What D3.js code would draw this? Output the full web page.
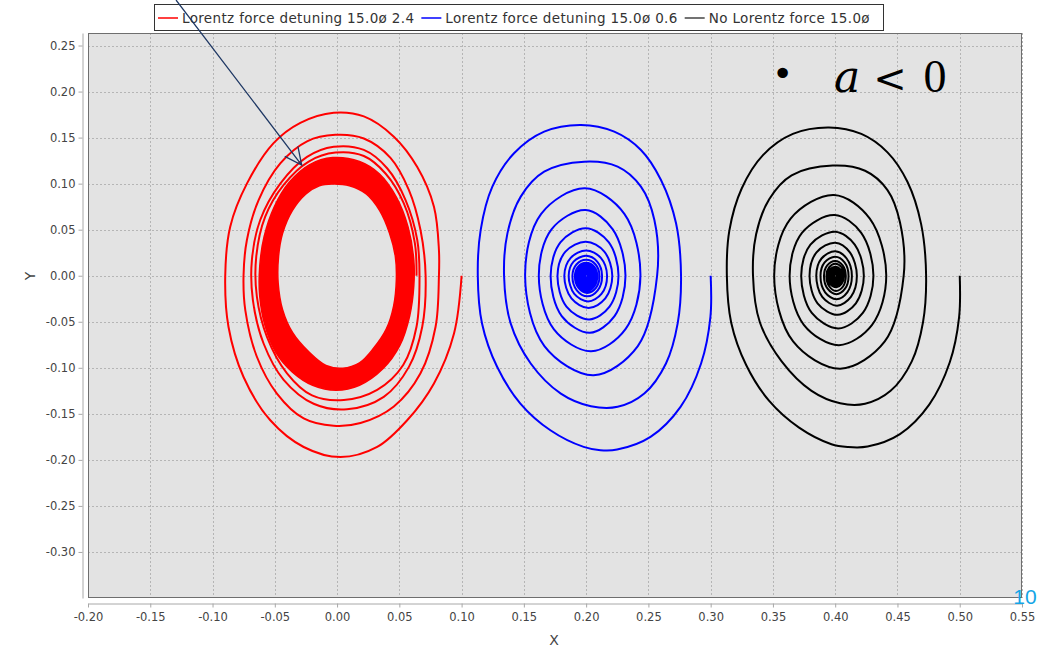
<!DOCTYPE html>
<html><head><meta charset="utf-8">
<script src="https://cdn.jsdelivr.net/npm/d3@7"></script>
<style>body{margin:0;background:#fff}svg{display:block}</style>
</head><body><svg id="c" width="1053" height="648"></svg>
<script>
// ---------- data ----------
const xTickValues = [-0.20,-0.15,-0.10,-0.05,0.00,0.05,0.10,0.15,0.20,0.25,0.30,0.35,0.40,0.45,0.50,0.55];
const yTickValues = [0.25,0.20,0.15,0.10,0.05,0.00,-0.05,-0.10,-0.15,-0.20,-0.25,-0.30];
const seriesNames = ["Lorentz force detuning 15.0ø 2.4","Lorentz force detuning 15.0ø 0.6","No Lorentz force 15.0ø"];
const seriesColors = ["#ff0000","#0000ff","#000000"];

// red: transient turns (x, y)
const redSpiral = [
[0.100,0.000],[0.0939,-0.0627],[0.0778,-0.117],[0.0563,-0.157],[0.0322,-0.186],[0.0027,-0.197],
[-0.0268,-0.186],[-0.0536,-0.157],[-0.0751,-0.110],[-0.0872,-0.0554],[-0.0898,0.000],[-0.0858,0.0533],
[-0.0724,0.100],[-0.0510,0.144],[-0.0295,0.166],[-0.0027,0.177],[0.0215,0.173],[0.0456,0.151],
[0.0644,0.118],[0.0778,0.075],[0.0818,0.028],[0.0818,0.000],
[0.0791,-0.0554],[0.0670,-0.106],[0.0456,-0.142],[0.0188,-0.160],[-0.0027,-0.163],[-0.0268,-0.155],
[-0.0483,-0.128],[-0.0644,-0.088],[-0.0737,-0.0373],[-0.0751,0.000],[-0.0724,0.0388],[-0.0630,0.0822],
[-0.0456,0.122],[-0.0241,0.146],[-0.0013,0.153],[0.0215,0.149],[0.0429,0.128],[0.0577,0.093],
[0.0670,0.0496],[0.0711,0.000],
[0.0684,-0.0554],[0.0577,-0.099],[0.0375,-0.1315],[0.0080,-0.145],[-0.0188,-0.139],[-0.0429,-0.113],
[-0.0590,-0.0736],[-0.0676,-0.0264],[-0.0684,0.017],[-0.0617,0.0605],[-0.0456,0.100],[-0.0241,0.129],
[-0.0027,0.140],[0.0215,0.1366],[0.0402,0.1167],[0.0550,0.0822],[0.0644,0.0388],[0.0662,0.000],
[0.0638,-0.0554],[0.0531,-0.097],[0.0322,-0.124],[0.0054,-0.135],[-0.0201,-0.130],[-0.0402,-0.106],
[-0.0563,-0.0663],[-0.0644,-0.0228],[-0.0649,0.0207],[-0.0577,0.0641],[-0.0429,0.0986],[-0.0228,0.124],
[-0.0013,0.1337],[0.0215,0.130],[0.0389,0.111],[0.0536,0.0786],[0.0625,0.0351],[0.0638,0.000]
];
// red: dense limit-cycle band (outer and inner boundary)
const redBandOuter = [
[-0.0035,0.1283],[0.018,0.124],[0.0341,0.1104],[0.0476,0.0853],[0.057,0.053],[0.0616,0.0172],
[0.0616,-0.0115],[0.0583,-0.0437],[0.0503,-0.076],[0.0368,-0.1011],[0.018,-0.119],[-0.0008,-0.1244],
[-0.0196,-0.119],[-0.0358,-0.1047],[-0.0492,-0.0832],[-0.0578,-0.0545],[-0.0621,-0.0222],[-0.0621,0.01],
[-0.0586,0.0423],[-0.0505,0.0746],[-0.0384,0.1014],[-0.0223,0.1204]
];
const redBandInner = [
[-0.0035,0.0996],[0.0099,0.0978],[0.0234,0.0889],[0.0341,0.071],[0.0422,0.0459],[0.0468,0.0208],
[0.0476,-0.0043],[0.0454,-0.033],[0.0395,-0.058],[0.0288,-0.0796],[0.018,-0.0946],[0.0046,-0.1004],
[-0.0089,-0.0975],[-0.0223,-0.0832],[-0.0358,-0.0616],[-0.0438,-0.0366],[-0.0473,-0.0079],[-0.047,0.0208],
[-0.0438,0.0459],[-0.0358,0.071],[-0.025,0.0889],[-0.0142,0.0978]
];
// blue spiral
const blueSpiral = [
[0.300,0],[0.2998,-0.0446],[0.2923,-0.0953],[0.2758,-0.1424],[0.2517,-0.175],[0.2249,-0.1888],
[0.2115,-0.1895],[0.198,-0.1859],[0.1713,-0.1678],[0.1472,-0.1388],[0.1285,-0.0989],[0.1164,-0.0518],
[0.113,0],[0.1153,0.0496],[0.1247,0.0967],[0.1421,0.133],[0.1663,0.1565],[0.1958,0.1638],
[0.2226,0.1565],[0.2440,0.1366],[0.2601,0.104],[0.2722,0.0569],[0.2762,0],
[0.2735,-0.0518],[0.2641,-0.0953],[0.2467,-0.128],[0.2253,-0.1424],[0.2038,-0.1417],[0.1797,-0.128],
[0.1555,-0.0953],[0.1394,-0.0518],[0.1341,0],[0.1368,0.046],[0.1475,0.0859],[0.1663,0.113],
[0.1985,0.1239],[0.2253,0.1185],[0.2440,0.0967],[0.2548,0.0605],[0.257,0],
[0.2415,-0.0764],[0.206,-0.108],[0.1665,-0.0764],[0.151,0],[0.1639,0.0672],[0.199,0.095],[0.2307,0.0672],[0.2436,0],
[0.2316,-0.058],[0.204,-0.082],[0.174,-0.058],[0.162,0],[0.1722,0.0504],[0.1995,0.0713],[0.2214,0.0504],[0.2316,0],
[0.2228,-0.0438],[0.203,-0.062],[0.1804,-0.0438],[0.1715,0],[0.1795,0.0364],[0.1998,0.0515],[0.2181,0.0364],[0.226,0],
[0.2188,-0.0336],[0.2025,-0.0475],[0.1842,-0.0336],[0.177,0],[0.1834,0.0262],[0.1998,0.037],[0.2146,0.0262],[0.221,0],
[0.2154,-0.0247],[0.202,-0.035],[0.1882,-0.0247],[0.1825,0],[0.1876,0.0194],[0.200,0.0274],[0.2118,0.0194],[0.2168,0],
[0.2123,-0.0198],[0.2015,-0.028],[0.1905,-0.0198],[0.186,0],[0.1899,0.0153],[0.200,0.0216],[0.2089,0.0153],[0.2128,0],
[0.2093,-0.0158],[0.201,-0.0223],[0.1925,-0.0158],[0.189,0],[0.1922,0.0122],[0.200,0.0173],[0.2076,0.0122],[0.2107,0],
[0.2079,-0.0132],[0.201,-0.0187],[0.1939,-0.0132],[0.191,0],[0.1936,0.0099],[0.200,0.014],[0.2064,0.0099],[0.209,0],
[0.2065,-0.0117],[0.2012,-0.0165],[0.1945,-0.0117],[0.192,0],[0.1943,0.009],[0.2003,0.0128],[0.2057,0.009],[0.208,0],
[0.2058,-0.0103],[0.2012,-0.0145],[0.1952,-0.0103],[0.193,0],[0.195,0.0079],[0.2003,0.0112],[0.205,0.0079],[0.207,0],
[0.2051,-0.0088],[0.201,-0.0125],[0.1959,-0.0088],[0.194,0],[0.1958,0.0069],[0.2003,0.0097],[0.2042,0.0069],[0.206,0],
[0.2044,-0.0074],[0.2009,-0.0105],[0.1966,-0.0074],[0.195,0],[0.1965,0.0058],[0.2003,0.0082],[0.2035,0.0058],[0.205,0],
[0.2037,-0.0062],[0.2008,-0.0088],[0.1973,-0.0062],[0.196,0],[0.1972,0.0048],[0.2003,0.0068],[0.2031,0.0048],[0.2043,0],
[0.2032,-0.0051],[0.2007,-0.0072],[0.1978,-0.0051],[0.1967,0],[0.1977,0.0039],[0.2003,0.0055],[0.2026,0.0039],[0.2036,0],
[0.2027,-0.004],[0.2006,-0.0057],[0.1983,-0.004],[0.1974,0],[0.1982,0.003],[0.2002,0.0043],[0.2021,0.003],[0.2029,0],
[0.2022,-0.003],[0.2005,-0.0043],[0.1987,-0.003],[0.198,0],[0.1986,0.0023],[0.2002,0.0032],[0.2016,0.0023],[0.2022,0],
[0.2017,-0.0021],[0.2004,-0.003],[0.1991,-0.0021],[0.1986,0],[0.199,0.0015],[0.2001,0.0021],[0.2011,0.0015],[0.2015,0],
[0.2011,-0.0013],[0.2003,-0.0018],[0.1995,-0.0013],[0.1992,0],[0.1995,0.0007],[0.2001,0.001],[0.2006,0.0007],[0.2008,0],[0.2003,-0.0003]
];
// black spiral
const blackSpiral = [
[0.500,0],[0.4995,-0.045],[0.492,-0.094],[0.4755,-0.140],[0.452,-0.172],[0.426,-0.1855],
[0.410,-0.186],[0.397,-0.183],[0.371,-0.165],[0.347,-0.136],[0.3285,-0.097],[0.3165,-0.051],
[0.313,0],[0.315,0.049],[0.325,0.095],[0.342,0.131],[0.366,0.154],[0.395,0.161],
[0.421,0.154],[0.442,0.134],[0.458,0.102],[0.469,0.056],[0.473,0],
[0.4705,-0.0505],[0.4615,-0.093],[0.4445,-0.125],[0.424,-0.139],[0.404,-0.1385],[0.381,-0.125],
[0.357,-0.093],[0.3395,-0.0505],[0.334,0],[0.3365,0.045],[0.347,0.083],[0.365,0.109],
[0.398,0.1196],[0.424,0.114],[0.442,0.093],[0.452,0.058],[0.455,0],
[0.4398,-0.0714],[0.404,-0.101],[0.3662,-0.0714],[0.351,0],[0.3642,0.062],[0.399,0.0877],[0.4278,0.062],[0.441,0],
[0.4296,-0.0533],[0.403,-0.0754],[0.3748,-0.0533],[0.3634,0],[0.3733,0.0466],[0.3995,0.0659],[0.4209,0.0466],[0.4307,0],
[0.4222,-0.0404],[0.4025,-0.0572],[0.3812,-0.0404],[0.3727,0],[0.3801,0.0338],[0.400,0.0478],[0.4157,0.0338],[0.423,0],
[0.4166,-0.030],[0.402,-0.0425],[0.3858,-0.030],[0.3794,0],[0.385,0.0254],[0.400,0.0359],[0.4118,0.0254],[0.4174,0],
[0.4126,-0.023],[0.4015,-0.0325],[0.3896,-0.023],[0.3848,0],[0.389,0.0187],[0.400,0.0265],[0.4092,0.0187],[0.4134,0],
[0.4097,-0.018],[0.401,-0.0255],[0.3919,-0.018],[0.3882,0],[0.3915,0.0145],[0.400,0.0205],[0.4075,0.0145],[0.4107,0],
[0.4079,-0.0141],[0.401,-0.020],[0.3939,-0.0141],[0.391,0],[0.3936,0.0113],[0.400,0.016],[0.406,0.0113],[0.4085,0],
[0.4063,-0.0117],[0.4005,-0.0165],[0.3953,-0.0117],[0.393,0],[0.3952,0.0092],[0.400,0.013],[0.4051,0.0092],[0.407,0],
[0.4051,-0.0088],[0.401,-0.0125],[0.3959,-0.0088],[0.394,0],[0.3958,0.0069],[0.4003,0.0097],[0.4042,0.0069],[0.406,0],
[0.4044,-0.0074],[0.4009,-0.0105],[0.3966,-0.0074],[0.395,0],[0.3965,0.0058],[0.4003,0.0082],[0.4035,0.0058],[0.405,0],
[0.4037,-0.0062],[0.4008,-0.0088],[0.3973,-0.0062],[0.396,0],[0.3972,0.0048],[0.4003,0.0068],[0.4031,0.0048],[0.4043,0],
[0.4032,-0.0051],[0.4007,-0.0072],[0.3978,-0.0051],[0.3967,0],[0.3977,0.0039],[0.4003,0.0055],[0.4026,0.0039],[0.4036,0],
[0.4027,-0.004],[0.4006,-0.0057],[0.3983,-0.004],[0.3974,0],[0.3982,0.003],[0.4002,0.0043],[0.4021,0.003],[0.4029,0],
[0.4022,-0.003],[0.4005,-0.0043],[0.3987,-0.003],[0.398,0],[0.3986,0.0023],[0.4002,0.0032],[0.4016,0.0023],[0.4022,0],
[0.4017,-0.0021],[0.4004,-0.003],[0.3991,-0.0021],[0.3986,0],[0.399,0.0015],[0.4001,0.0021],[0.4011,0.0015],[0.4015,0],
[0.4011,-0.0013],[0.4003,-0.0018],[0.3995,-0.0013],[0.3992,0],[0.3995,0.0007],[0.4001,0.001],[0.4006,0.0007],[0.4008,0],[0.4003,-0.0003]
];
// annotation arrow (data units): start, tip
const arrowPoints = [[-0.1293,0.2994],[-0.0284,0.1202]];
const noteText = ["•","a","<","0"];
const pageNumber = "10";

// ---------- layout ----------
const svg = d3.select("#c");
const L = 88, R = 1022, T = 33, B = 598;
const x = d3.scaleLinear().domain([-0.20,0.55]).range([L,R]);
const y = d3.scaleLinear().domain([-0.35,0.2636]).range([B,T]);
const font = "'DejaVu Sans', sans-serif";

svg.append("rect").attr("width",1053).attr("height",648).attr("fill","#fff");
svg.append("rect").attr("x",L).attr("y",T).attr("width",R-L).attr("height",B-T).attr("fill","#e3e3e3");

svg.append("defs").append("clipPath").attr("id","clip")
  .append("rect").attr("x",L).attr("y",T).attr("width",R-L).attr("height",B-T);

// grid
const grid = svg.append("g").attr("stroke","#b5b5b5").attr("stroke-width",1).attr("stroke-dasharray","2,2");
grid.selectAll("line.v").data(xTickValues).enter().append("line")
  .attr("x1",d=>Math.round(x(d))+0.5).attr("x2",d=>Math.round(x(d))+0.5).attr("y1",T).attr("y2",B);
grid.selectAll("line.h").data(yTickValues).enter().append("line")
  .attr("y1",d=>Math.round(y(d))+0.5).attr("y2",d=>Math.round(y(d))+0.5).attr("x1",L).attr("x2",R);

const plot = svg.append("g").attr("clip-path","url(#clip)");

// red band
const closed = d3.line().x(d=>x(d[0])).y(d=>y(d[1])).curve(d3.curveCatmullRomClosed.alpha(0.5));
plot.append("path").attr("d", closed(redBandOuter)+closed(redBandInner))
  .attr("fill",seriesColors[0]).attr("fill-rule","evenodd").attr("stroke",seriesColors[0]).attr("stroke-width",1.5);

const lineCR = d3.line().x(d=>x(d[0])).y(d=>y(d[1])).curve(d3.curveCatmullRom.alpha(0.5));
[redSpiral, blueSpiral, blackSpiral].forEach((s,i)=>{
  plot.append("path").attr("d",lineCR(s)).attr("fill","none")
    .attr("stroke",seriesColors[i]).attr("stroke-width",2).attr("stroke-linejoin","round");
});

// plot outline
svg.append("rect").attr("x",L+0.5).attr("y",T+0.5).attr("width",R-L-1).attr("height",B-T-1)
  .attr("fill","none").attr("stroke","#6e6e6e").attr("stroke-width",1);

// axes
const fmt = d=>d.toFixed(2);
const yAxis = svg.append("g").attr("transform",`translate(${L-5.5},0)`)
  .call(d3.axisLeft(y).tickValues(yTickValues).tickFormat(fmt).tickSize(4).tickSizeOuter(0).tickPadding(3));
const xAxis = svg.append("g").attr("transform",`translate(0,${B+5.5})`)
  .call(d3.axisBottom(x).tickValues(xTickValues).tickFormat(fmt).tickSize(4).tickSizeOuter(0).tickPadding(5));
[yAxis,xAxis].forEach(a=>{
  a.attr("font-family",font).attr("font-size",11.5);
  a.selectAll("path,line").attr("stroke","#a8a8a8");
  a.selectAll("text").attr("fill","#444");
});

svg.append("text").attr("x",554).attr("y",645).attr("text-anchor","middle")
  .attr("font-family",font).attr("font-size",14).attr("fill","#444").text("X");
svg.append("text").attr("transform","translate(35,276) rotate(-90)").attr("text-anchor","middle")
  .attr("font-family",font).attr("font-size",14).attr("fill","#444").text("Y");

// legend
const lg = svg.append("g");
lg.append("rect").attr("x",154.5).attr("y",4.5).attr("width",729).attr("height",26)
  .attr("fill","#fff").attr("stroke","#333");
let cx = 158;
seriesNames.forEach((n,i)=>{
  lg.append("line").attr("x1",cx).attr("x2",cx+20).attr("y1",18).attr("y2",18)
    .attr("stroke",i===2?"#444":seriesColors[i]).attr("stroke-width",1.5);
  const t = lg.append("text").attr("x",cx+24).attr("y",23).attr("font-family",font)
    .attr("font-size",13.5).attr("letter-spacing","0.35px").attr("fill","#333").text(n);
  cx += 24 + t.node().getComputedTextLength() + 7;
});

// arrow annotation
const p0 = [x(arrowPoints[0][0]), y(arrowPoints[0][1])];
const p1 = [x(arrowPoints[1][0]), y(arrowPoints[1][1])];
const ang = Math.atan2(p1[1]-p0[1], p1[0]-p0[0]);
const hl = 19, ha = 0.45;
const h1 = [p1[0]-hl*Math.cos(ang-ha), p1[1]-hl*Math.sin(ang-ha)];
const h2 = [p1[0]-hl*Math.cos(ang+ha), p1[1]-hl*Math.sin(ang+ha)];
svg.append("path").attr("d",`M${p0}L${p1}M${h1}L${p1}L${h2}`)
  .attr("fill","none").attr("stroke","#1f3864").attr("stroke-width",1.3);

// note "• a < 0"
svg.append("text").attr("x",782.5).attr("y",86).attr("text-anchor","middle")
  .attr("font-family","'DejaVu Sans'").attr("font-size",36).attr("fill","#000").text(noteText[0]);
svg.append("text").attr("x",847).attr("y",92).attr("text-anchor","middle")
  .attr("font-family","'DejaVu Serif'").attr("font-style","italic").attr("font-size",44).attr("fill","#000").text(noteText[1]);
svg.append("text").attr("x",890).attr("y",92).attr("text-anchor","middle")
  .attr("font-family","'DejaVu Serif'").attr("font-size",40).attr("fill","#000").text(noteText[2]);
svg.append("text").attr("x",935).attr("y",92).attr("text-anchor","middle")
  .attr("font-family","'Liberation Serif'").attr("font-size",46).attr("fill","#000").text(noteText[3]);

// page number
svg.append("text").attr("x",1025).attr("y",604).attr("text-anchor","middle")
  .attr("font-family","'Liberation Sans'").attr("font-size",21).attr("fill","#14a5e6").text(pageNumber);
</script></body></html>
